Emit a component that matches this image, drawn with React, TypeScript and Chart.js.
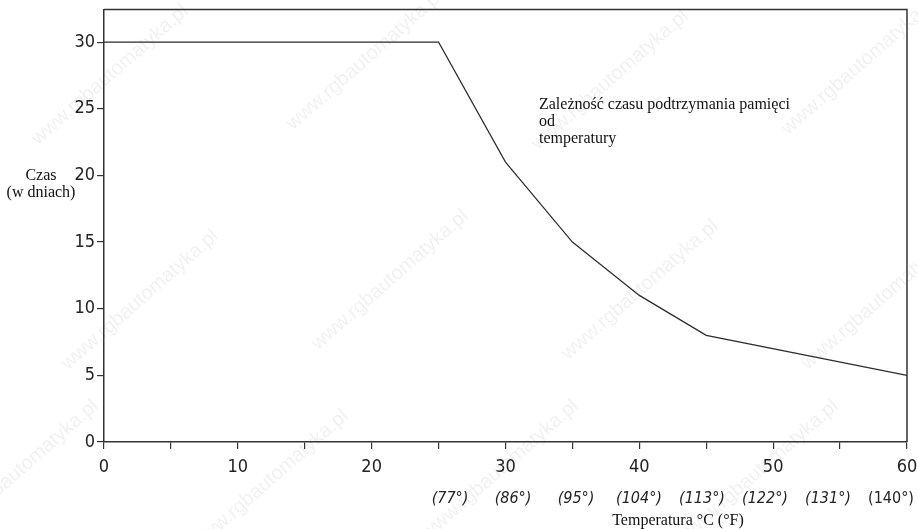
import React, { useEffect, useRef } from "react";
import { Chart, registerables } from "chart.js";

Chart.register(...registerables);

// ---- data ----
const temperatureC = [0, 25, 30, 35, 40, 45, 60];
const retentionDays = [30, 30, 21, 15, 11, 8, 5];
const fahrenheitTickValues = [25, 30, 35, 40, 45, 50, 55, 60];
const fahrenheitLabels = ["(77°)", "(86°)", "(95°)", "(104°)", "(113°)", "(122°)", "(131°)", "(140°)"];
const yTitleLines = ["Czas", "(w dniach)"];
const xTitle = "Temperatura °C (°F)";
const noteLines = ["Zależność czasu podtrzymania pamięci", "od", "temperatury"];
const watermarkText = "www.rgbautomatyka.pl";

const NARROW = "'Liberation Sans Narrow', 'Arial Narrow', 'DejaVu Sans Condensed', sans-serif";
const SERIF = "'Liberation Serif', 'Times New Roman', serif";

const textPlugin = {
  id: "texts",
  beforeDraw(chart: any) {
    const ctx = chart.ctx;
    ctx.save();
    ctx.fillStyle = "rgba(0,0,0,0.06)";
    ctx.font = `20px 'Liberation Sans', Arial, sans-serif`;
    ctx.textAlign = "center";
    ctx.textBaseline = "middle";
    const spots = [
      [110, 75], [365, 60], [610, 80], [860, 65],
      [140, 300], [390, 280], [640, 290], [880, 300],
      [20, 470], [270, 480], [500, 470], [760, 470],
    ];
    for (const [x, y] of spots) {
      ctx.save();
      ctx.translate(x, y);
      ctx.rotate(-0.72);
      ctx.fillText(watermarkText, 0, 0);
      ctx.restore();
    }
    ctx.restore();
  },
  afterDraw(chart: any) {
    const ctx = chart.ctx;
    const { left, right, top, bottom } = chart.chartArea;
    const xs = chart.scales.x;
    const ys = chart.scales.y;
    ctx.save();
    // frame top and right
    ctx.strokeStyle = "#333";
    ctx.lineWidth = 1.5;
    ctx.beginPath();
    ctx.moveTo(left, top);
    ctx.lineTo(right, top);
    ctx.lineTo(right, bottom);
    ctx.stroke();

    ctx.fillStyle = "#111";
    ctx.font = `16px ${SERIF}`;
    ctx.textBaseline = "middle";
    // y title
    ctx.textAlign = "center";
    const yTitleY = ys.getPixelForValue(20);
    yTitleLines.forEach((t, i) => ctx.fillText(t, left - 63, yTitleY + i * 17));
    // x title
    ctx.fillText(xTitle, 678, 521);
    // note
    ctx.textAlign = "left";
    const nx = xs.getPixelForValue(32.5);
    const ny = ys.getPixelForValue(25.3);
    noteLines.forEach((t, i) => ctx.fillText(t, nx, ny + i * 17));
    ctx.restore();
  },
};

export default function App() {
  const ref = useRef<HTMLCanvasElement | null>(null);
  useEffect(() => {
    if (!ref.current) return;
    const chart = new Chart(ref.current, {
      type: "line",
      data: {
        datasets: [
          {
            data: temperatureC.map((t, i) => ({ x: t, y: retentionDays[i] })),
            borderColor: "#2a2a2a",
            borderWidth: 1.2,
            pointRadius: 0,
            tension: 0,
            fill: false,
          },
        ],
      },
      options: {
        animation: false,
        responsive: false,
        devicePixelRatio: 1,
        layout: { padding: { top: 9.5, right: 11, bottom: 0, left: 0 } },
        plugins: { legend: { display: false }, tooltip: { enabled: false } },
        scales: {
          x: {
            type: "linear",
            position: "bottom",
            weight: 0,
            min: 0,
            max: 60,
            afterFit: (s: any) => {
              s.height = 40;
              s.paddingLeft = 0;
              s.paddingRight = 0;
            },
            ticks: {
              stepSize: 5,
              autoSkip: false,
              maxRotation: 0,
              padding: 8,
              color: "#222",
              font: { family: NARROW, size: 18 },
              callback: (v: any) => (Number(v) % 10 === 0 ? String(v) : ""),
            },
            grid: { drawOnChartArea: false, drawTicks: true, tickLength: 7, color: "#333", lineWidth: 1.2 },
            border: { display: true, color: "#333", width: 1.5 },
          },
          xF: {
            type: "linear",
            position: "bottom",
            weight: 1,
            min: -2.46,
            max: 61.27,
            afterFit: (s: any) => {
              s.height = 47;
              s.paddingLeft = 0;
              s.paddingRight = 0;
            },
            afterBuildTicks: (s: any) => {
              s.ticks = fahrenheitTickValues.map((v) => ({ value: v }));
            },
            ticks: {
              autoSkip: false,
              maxRotation: 0,
              padding: 7,
              color: "#222",
              font: (c: any) => ({
                family: NARROW,
                size: 16,
                style: c.tick && c.tick.value === 60 ? "normal" : "italic",
              }),
              callback: (v: any) => {
                const i = fahrenheitTickValues.indexOf(Number(v));
                return i >= 0 ? fahrenheitLabels[i] : "";
              },
            },
            grid: { display: false, drawTicks: false },
            border: { display: false },
          },
          y: {
            type: "linear",
            min: 0,
            max: 32.45,
            afterFit: (s: any) => {
              s.width = 104;
              s.paddingTop = 0;
              s.paddingBottom = 0;
            },
            afterBuildTicks: (s: any) => {
              s.ticks = s.ticks.filter((t: any) => t.value % 5 === 0);
            },
            ticks: {
              stepSize: 5,
              padding: 2,
              color: "#222",
              font: { family: NARROW, size: 18 },
            },
            grid: { drawOnChartArea: false, drawTicks: true, tickLength: 7, color: "#333", lineWidth: 1.2 },
            border: { display: true, color: "#333", width: 1.5 },
          },
        },
      } as any,
      plugins: [textPlugin],
    });
    return () => chart.destroy();
  }, []);
  return (
    <div style={{ position: "absolute", left: 0, top: 0, width: 918, height: 529, background: "#fff" }}>
      <canvas ref={ref} width={918} height={529} style={{ display: "block", width: 918, height: 529 }} />
    </div>
  );
}
